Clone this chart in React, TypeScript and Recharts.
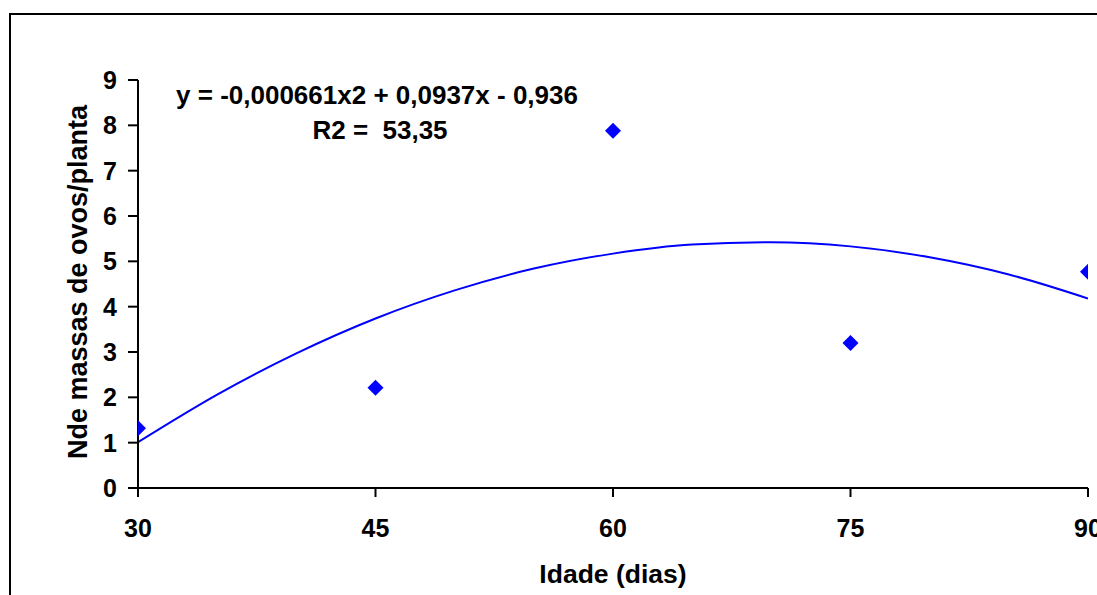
import React from 'react';
import {
  ComposedChart,
  Customized,
  Line,
  Scatter,
  XAxis,
  YAxis,
} from 'recharts';

// observed values (idade em dias x massas de ovos por planta)
const idade = [30, 45, 60, 75, 90];
const massas = [1.32, 2.21, 7.88, 3.2, 4.77];

// polynomial trendline, every 5 days
const trendIdade = [30, 35, 40, 45, 50, 55, 60, 65, 70, 75, 80, 85, 90];
const trendMassas = [1.01, 2.06, 2.97, 3.74, 4.36, 4.84, 5.17, 5.37, 5.42, 5.33, 5.09, 4.71, 4.18];

const xTicks = [30, 45, 60, 75, 90];
const yTicks = [0, 1, 2, 3, 4, 5, 6, 7, 8, 9];

const equation = 'y = -0,000661x2 + 0,0937x - 0,936';
const r2Text = 'R2 =  53,35';

const pointData = idade.map((x, i) => ({ x, y: massas[i] }));
const trendData = trendIdade.map((x, i) => ({ x, trend: trendMassas[i] }));

const FONT = '"Liberation Sans", Arial, sans-serif';
const BLUE = '#0000FF';

const Diamond = (props: any) => {
  const { cx, cy } = props;
  const r = 8;
  return (
    <polygon
      points={`${cx},${cy - r} ${cx + r},${cy} ${cx},${cy + r} ${cx - r},${cy}`}
      fill={BLUE}
    />
  );
};

const Annotations = () => (
  <g fontFamily={FONT} fontWeight="bold" fill="#000">
    <text x={377} y={104} fontSize={26} textAnchor="middle">
      {equation}
    </text>
    <text x={380} y={139} fontSize={26} textAnchor="middle" style={{ whiteSpace: 'pre' }}>
      {r2Text}
    </text>
    <text
      x={0}
      y={0}
      fontSize={27}
      textAnchor="middle"
      transform="translate(87, 282) rotate(-90)"
    >
      Nde massas de ovos/planta
    </text>
    <text x={613} y={583} fontSize={26.5} textAnchor="middle">
      Idade (dias)
    </text>
  </g>
);

export default function App() {
  return (
    <div
      style={{
        position: 'fixed',
        left: 0,
        top: 0,
        width: 1097,
        height: 595,
        overflow: 'hidden',
        background: '#fff',
      }}
    >
      <div
        style={{
          position: 'absolute',
          left: 9,
          top: 13,
          width: 1200,
          height: 700,
          border: '2px solid #000',
        }}
      />
      <div style={{ position: 'absolute', left: 0, top: 0 }}>
        <ComposedChart
          width={1130}
          height={620}
          margin={{ top: 80, right: 42, left: 78, bottom: 72 }}
        >
          <XAxis
            dataKey="x"
            type="number"
            domain={[30, 90]}
            ticks={xTicks}
            allowDataOverflow
            height={60}
            axisLine={{ stroke: '#000', strokeWidth: 2 }}
            tickLine={{ stroke: '#000', strokeWidth: 2 }}
            tickSize={9}
            tickMargin={22}
            tick={{ fill: '#000', fontSize: 25, fontWeight: 'bold', fontFamily: FONT }}
          />
          <YAxis
            type="number"
            domain={[0, 9]}
            ticks={yTicks}
            width={60}
            axisLine={{ stroke: '#000', strokeWidth: 2 }}
            tickLine={{ stroke: '#000', strokeWidth: 2 }}
            tickSize={10}
            tickMargin={11}
            tick={{ fill: '#000', fontSize: 25, fontWeight: 'bold', fontFamily: FONT }}
          />
          <Line
            data={trendData}
            dataKey="trend"
            type="monotone"
            stroke={BLUE}
            strokeWidth={2}
            dot={false}
            activeDot={false}
            isAnimationActive={false}
          />
          <Scatter
            data={pointData}
            dataKey="y"
            shape={<Diamond />}
            isAnimationActive={false}
          />
          <Customized component={<Annotations />} />
        </ComposedChart>
      </div>
    </div>
  );
}
